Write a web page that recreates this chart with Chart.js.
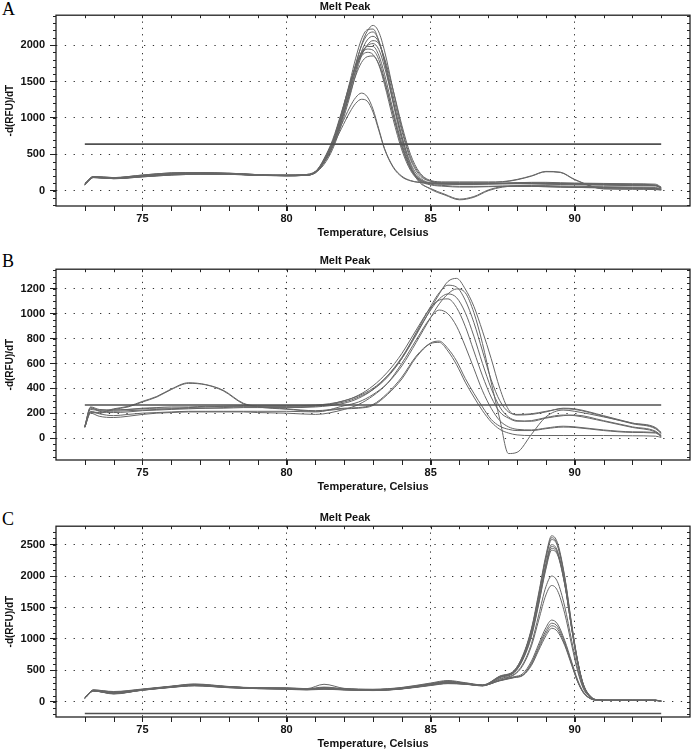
<!DOCTYPE html>
<html>
<head>
<meta charset="utf-8">
<script src="https://cdn.jsdelivr.net/npm/chart.js@4.4.1/dist/chart.umd.min.js"></script>
<style>
  body { margin: 0; width: 691px; height: 750px; overflow: hidden; background: #fff; }
  .panel { position: absolute; left: 0; width: 691px; height: 242px; }
  .tag { position: absolute; left: 2px; font-family: "Liberation Serif", serif; font-size: 18px; line-height: 1; color: #000; }
</style>
</head>
<body>
<div class="tag" style="top:0px">A</div>
<div class="tag" style="top:252px">B</div>
<div class="tag" style="top:510px">C</div>
<div class="panel" style="top:0px"><canvas id="chartA" width="691" height="242"></canvas></div>
<div class="panel" style="top:254px"><canvas id="chartB" width="691" height="242"></canvas></div>
<div class="panel" style="top:511px"><canvas id="chartC" width="691" height="242"></canvas></div>
<script>
// ---- panel A data ----
const tempA = [73, 73.3, 74, 75, 76, 77, 78, 79, 80, 80.6, 81, 81.3, 81.6, 81.9, 82.2, 82.4, 82.6, 82.8, 83.0, 83.2,
  83.4, 83.7, 84, 84.3, 84.6, 85, 85.5, 86, 86.5, 87, 87.5, 88, 88.5, 89, 89.5, 90, 91, 92, 92.8, 93];
const a1 = [90, 190, 175, 205, 230, 235, 230, 215, 210, 215, 255, 390, 610, 960, 1400, 1720, 2000, 2190, 2270, 2180,
  1920, 1380, 860, 460, 240, 130, 100, 95, 95, 100, 105, 110, 110, 105, 100, 100, 95, 90, 75, 40];
const a2 = [80, 180, 170, 195, 220, 240, 240, 220, 205, 210, 245, 420, 670, 1050, 1500, 1820, 2080, 2210, 2220, 2060,
  1760, 1200, 700, 330, 120, 30, -50, -115, -80, 10, 55, 60, 60, 55, 50, 45, 40, 35, 30, 20];
const a3 = [100, 195, 180, 215, 245, 250, 235, 210, 215, 220, 265, 400, 640, 1000, 1440, 1740, 1990, 2140, 2180, 2060,
  1780, 1240, 740, 360, 140, 20, -60, -125, -90, 0, 50, 65, 65, 60, 55, 50, 45, 40, 35, 15];
const a4 = [85, 185, 165, 190, 215, 225, 225, 210, 205, 210, 250, 380, 600, 940, 1360, 1660, 1910, 2070, 2120, 2040,
  1800, 1300, 820, 430, 220, 130, 115, 115, 115, 115, 120, 150, 200, 260, 250, 150, 25, 20, 15, 10];
const a5 = [95, 188, 172, 200, 225, 232, 232, 218, 212, 212, 250, 360, 570, 900, 1300, 1600, 1850, 2000, 2060, 2020,
  1820, 1380, 900, 500, 260, 140, 120, 120, 120, 120, 125, 155, 205, 265, 255, 155, 28, 25, 20, 10];
const a6 = [80, 180, 170, 195, 220, 240, 240, 220, 205, 210, 245, 390, 620, 960, 1380, 1650, 1880, 1990, 2020, 1940,
  1700, 1220, 750, 380, 190, 110, 100, 95, 95, 100, 100, 100, 100, 95, 95, 90, 85, 80, 75, 40];
const a7 = [100, 195, 180, 215, 245, 250, 235, 210, 215, 220, 265, 420, 660, 1020, 1450, 1720, 1900, 1980, 1980, 1860,
  1600, 1100, 650, 320, 170, 100, 90, 85, 85, 90, 95, 100, 95, 90, 85, 80, 75, 70, 65, 30];
const a8 = [85, 185, 165, 190, 215, 225, 225, 210, 205, 210, 250, 430, 680, 1050, 1470, 1720, 1880, 1945, 1930, 1800,
  1530, 1040, 600, 300, 150, 90, 70, 60, 60, 60, 65, 70, 70, 70, 65, 60, 55, 50, 45, 20];
const a9 = [90, 192, 178, 210, 238, 242, 236, 214, 210, 214, 258, 440, 700, 1070, 1470, 1700, 1850, 1900, 1870, 1730,
  1460, 980, 560, 280, 140, 80, 60, 50, 50, 55, 60, 60, 60, 55, 50, 45, 40, 35, 30, 15];
const a10 = [88, 182, 168, 198, 228, 238, 236, 216, 208, 212, 248, 400, 630, 960, 1330, 1580, 1760, 1840, 1850, 1740,
  1500, 1050, 620, 310, 160, 100, 90, 90, 90, 95, 100, 110, 115, 115, 110, 105, 100, 95, 90, 50];
const a11 = [92, 186, 172, 202, 232, 240, 238, 220, 212, 216, 260, 420, 650, 900, 1150, 1280, 1340, 1290, 1120, 850,
  580, 330, 200, 140, 115, 105, 100, 100, 100, 100, 100, 100, 100, 100, 100, 95, 90, 80, 70, 35];
const a12 = [86, 184, 170, 196, 224, 236, 234, 214, 206, 212, 252, 400, 610, 850, 1080, 1200, 1255, 1230, 1080, 830,
  570, 320, 190, 135, 115, 105, 100, 100, 100, 95, 95, 95, 95, 95, 90, 90, 85, 80, 75, 40];
const seriesA = [a1, a2, a3, a4, a5, a6, a7, a8, a9, a10, a11, a12];
const thresholdA = 640;
const yTicksA = [0, 500, 1000, 1500, 2000];

// ---- panel B data ----
const tempB = [73, 73.2, 73.5, 74, 74.5, 75, 75.5, 76, 76.6, 77.2, 77.8, 78.5, 79, 80, 81, 82, 82.5, 83, 83.5, 84,
  84.5, 85, 85.3, 85.6, 85.9, 86.2, 86.5, 86.8, 87.1, 87.4, 87.7, 88, 88.5, 89, 89.6, 90, 91, 92, 92.8, 93];
const b1 = [90, 245, 215, 205, 210, 220, 225, 230, 235, 240, 245, 250, 250, 250, 255, 300, 340, 400, 500, 640,
  830, 1040, 1160, 1260, 1285, 1200, 1060, 860, 640, 400, 230, 185, 190, 210, 240, 235, 180, 120, 80, 40];
const b2 = [95, 240, 225, 225, 230, 235, 240, 240, 245, 250, 255, 255, 255, 255, 260, 290, 330, 390, 490, 640,
  850, 1060, 1170, 1230, 1215, 1110, 930, 700, 470, 300, 210, 190, 195, 215, 235, 230, 175, 115, 75, 35];
const b3 = [85, 215, 195, 180, 190, 200, 205, 210, 215, 215, 215, 215, 215, 215, 210, 260, 290, 350, 440, 580,
  770, 970, 1080, 1160, 1200, 1170, 1010, 760, 450, 150, -125, -115, 30, 170, 225, 215, 170, 120, 85, 45];
const b4 = [90, 230, 220, 215, 220, 225, 230, 235, 240, 240, 240, 245, 245, 245, 250, 280, 320, 390, 500, 650,
  840, 1030, 1120, 1160, 1130, 1010, 820, 600, 400, 250, 170, 140, 135, 160, 180, 185, 140, 90, 55, 20];
const b5 = [95, 250, 230, 225, 230, 240, 245, 250, 250, 255, 255, 260, 260, 260, 265, 300, 345, 420, 530, 680,
  870, 1050, 1110, 1120, 1050, 900, 700, 500, 330, 210, 160, 135, 140, 165, 185, 180, 135, 85, 50, 20];
const b6 = [85, 200, 175, 165, 175, 190, 200, 205, 210, 210, 210, 210, 205, 200, 190, 230, 270, 340, 440, 600,
  790, 970, 1030, 1000, 900, 740, 560, 380, 240, 140, 90, 70, 65, 80, 95, 90, 65, 50, 45, 15];
const b7 = [90, 210, 205, 235, 255, 295, 335, 395, 445, 430, 385, 280, 255, 235, 220, 240, 245, 270, 360, 490,
  660, 765, 780, 720, 620, 480, 360, 250, 150, 95, 70, 60, 60, 75, 88, 85, 60, 45, 40, 10];
const b8 = [88, 205, 200, 230, 250, 290, 330, 390, 440, 428, 380, 275, 250, 232, 215, 235, 240, 262, 350, 475,
  650, 760, 770, 700, 590, 450, 330, 220, 130, 70, 40, 25, 20, 20, 20, 20, 20, 18, 15, 5];
const seriesB = [b1, b2, b3, b4, b5, b6, b7, b8];
const thresholdB = 266;
const yTicksB = [0, 200, 400, 600, 800, 1000, 1200];

// ---- panel C data ----
const tempC = [73, 73.3, 74, 75, 76, 76.8, 78, 79, 80, 80.7, 81.3, 82, 83, 84, 85, 85.6, 86.2, 86.8,
  87.4, 87.9, 88.2, 88.5, 88.75, 89, 89.2, 89.4, 89.65, 89.9, 90.1, 90.3, 90.55, 90.8, 91.2, 92, 92.8, 93];
const c1 = [60, 185, 150, 195, 245, 275, 240, 220, 215, 205, 225, 205, 195, 220, 285, 320, 295, 265,
  410, 500, 740, 1170, 1730, 2330, 2640, 2530, 2000, 1220, 660, 280, 85, 32, 28, 28, 27, 15];
const c2 = [70, 175, 125, 190, 235, 265, 230, 215, 210, 200, 215, 195, 185, 210, 270, 300, 285, 260,
  400, 490, 720, 1150, 1700, 2300, 2610, 2500, 1980, 1200, 650, 270, 82, 30, 27, 27, 26, 15];
const c3 = [65, 190, 165, 205, 250, 285, 245, 225, 225, 210, 280, 215, 200, 230, 300, 340, 305, 270,
  405, 495, 730, 1140, 1680, 2270, 2580, 2480, 1960, 1190, 640, 265, 80, 30, 27, 27, 26, 14];
const c4 = [55, 170, 135, 185, 230, 255, 225, 210, 200, 190, 200, 190, 180, 205, 260, 290, 280, 255,
  395, 480, 700, 1100, 1620, 2200, 2500, 2400, 1900, 1150, 620, 260, 78, 28, 25, 25, 25, 14];
const c5 = [62, 182, 145, 198, 242, 270, 238, 218, 212, 202, 220, 200, 192, 215, 280, 315, 290, 262,
  390, 475, 690, 1080, 1600, 2170, 2470, 2380, 1890, 1150, 625, 262, 80, 28, 25, 25, 25, 13];
const c6 = [68, 178, 130, 192, 238, 268, 232, 214, 208, 198, 212, 198, 188, 212, 275, 305, 288, 258,
  400, 470, 680, 1060, 1570, 2140, 2440, 2360, 1880, 1160, 640, 270, 85, 30, 26, 26, 25, 14];
const c7 = [58, 188, 160, 200, 248, 280, 242, 222, 220, 208, 235, 210, 198, 225, 292, 330, 300, 268,
  385, 465, 670, 1040, 1550, 2110, 2410, 2340, 1870, 1160, 650, 280, 90, 32, 26, 26, 25, 14];
const c8 = [60, 172, 140, 188, 232, 258, 228, 212, 204, 194, 205, 192, 182, 208, 265, 295, 282, 256,
  370, 440, 600, 930, 1380, 1830, 2000, 1910, 1520, 960, 530, 225, 72, 28, 25, 25, 24, 13];
const c9 = [64, 180, 148, 194, 240, 268, 236, 216, 210, 200, 218, 200, 190, 214, 278, 310, 290, 262,
  360, 430, 580, 890, 1300, 1700, 1850, 1770, 1410, 890, 490, 210, 68, 27, 24, 24, 24, 13];
const c10 = [66, 186, 155, 198, 244, 272, 240, 220, 216, 204, 224, 204, 194, 218, 284, 318, 294, 264,
  345, 400, 450, 650, 920, 1180, 1300, 1240, 980, 630, 350, 160, 55, 26, 24, 24, 24, 13];
const c11 = [56, 174, 132, 186, 234, 260, 228, 212, 206, 196, 208, 194, 184, 208, 268, 298, 284, 258,
  340, 395, 430, 620, 880, 1130, 1250, 1200, 950, 600, 330, 150, 52, 25, 23, 23, 23, 12];
const c12 = [62, 184, 152, 196, 242, 274, 238, 220, 214, 204, 222, 204, 194, 216, 282, 316, 292, 264,
  340, 390, 425, 600, 850, 1090, 1210, 1160, 920, 590, 330, 150, 52, 25, 23, 23, 23, 12];
const c13 = [68, 176, 138, 190, 236, 262, 232, 214, 208, 198, 210, 196, 186, 210, 272, 302, 286, 260,
  335, 385, 420, 580, 820, 1050, 1170, 1120, 900, 575, 320, 145, 50, 25, 23, 23, 23, 12];
const seriesC = [c1, c2, c3, c4, c5, c6, c7, c8, c9, c10, c11, c12, c13];
const thresholdC = -185;
const yTicksC = [0, 500, 1000, 1500, 2000, 2500];

const xTicks = [75, 80, 85, 90];
const thresholdSpan = [73, 93];

const FONT = '"Liberation Sans", Arial, sans-serif';
Chart.defaults.font.family = FONT;

// small tick marks and the box around the plot
const frame = {
  id: 'frame',
  afterDraw(chart, args, opts) {
    const { ctx, chartArea: a, scales: { x, y } } = chart;
    ctx.save();
    ctx.strokeStyle = '#222';
    ctx.lineWidth = 1;
    ctx.beginPath();
    for (let t = 73; t <= 93; t++) {
      const px = Math.round(x.getPixelForValue(t)) + 0.5;
      ctx.moveTo(px, a.bottom); ctx.lineTo(px, a.bottom + 5);
      ctx.moveTo(px, a.top); ctx.lineTo(px, a.top + 3);
    }
    for (let v = opts.from; v <= opts.to; v += opts.step) {
      const py = Math.round(y.getPixelForValue(v)) + 0.5;
      ctx.moveTo(a.left - 3, py); ctx.lineTo(a.left, py);
      ctx.moveTo(a.right - 3, py); ctx.lineTo(a.right, py);
    }
    ctx.stroke();
    ctx.lineWidth = 1.3;
    ctx.strokeRect(a.left, a.top, a.right - a.left, a.bottom - a.top);
    ctx.restore();
  }
};

function makeChart(id, temps, series, threshold, yMin, yMax, yTicks, minor) {
  const sets = [{
    data: [{ x: thresholdSpan[0], y: threshold }, { x: thresholdSpan[1], y: threshold }],
    borderColor: '#505050', borderWidth: 1.6, pointRadius: 0
  }];
  series.forEach(vals => {
    sets.push({
      data: vals.map((v, i) => ({ x: temps[i], y: v })),
      borderColor: '#666', borderWidth: 1, pointRadius: 0,
      cubicInterpolationMode: 'monotone'
    });
  });

  new Chart(document.getElementById(id), {
    type: 'line',
    data: { datasets: sets },
    plugins: [frame],
    options: {
      responsive: false,
      animation: false,
      events: [],
      layout: { padding: { left: 0, right: 1, top: 0, bottom: 0 } },
      plugins: {
        legend: { display: false },
        tooltip: { enabled: false },
        title: {
          display: true, text: 'Melt Peak', color: '#111',
          font: { size: 11, weight: 'bold' }, padding: { top: 0, bottom: 2 }
        },
        frame: minor
      },
      scales: {
        x: {
          type: 'linear', min: 72, max: 94,
          afterBuildTicks: s => { s.ticks = xTicks.map(v => ({ value: v })); },
          afterFit: s => { s.height = 36; },
          border: { display: false, dash: [1.3, 5] },
          grid: { color: '#333', tickBorderDash: [0, 0], tickColor: '#222', tickLength: 5 },
          ticks: { color: '#111', font: { size: 11, weight: 'bold' }, padding: 1, callback: v => String(v) },
          title: {
            display: true, text: 'Temperature, Celsius', color: '#111',
            font: { size: 11, weight: 'bold' }, padding: { top: 0, bottom: 2 }
          }
        },
        y: {
          min: yMin, max: yMax,
          afterBuildTicks: s => { s.ticks = yTicks.map(v => ({ value: v })); },
          afterFit: s => { s.width = 56; },
          border: { display: false, dash: [1.3, 7.5] },
          grid: { color: '#333', tickBorderDash: [0, 0], tickColor: '#222', tickLength: 6 },
          ticks: { color: '#111', font: { size: 11, weight: 'bold' }, padding: 5, callback: v => String(v) },
          title: {
            display: true, text: '-d(RFU)/dT', color: '#111',
            font: { size: 10, weight: 'bold' }, padding: { top: 4, bottom: 0 }
          }
        }
      }
    }
  });
}

makeChart('chartA', tempA, seriesA, thresholdA, -210, 2410, yTicksA, { from: -200, to: 2400, step: 100 });
makeChart('chartB', tempB, seriesB, thresholdB, -177, 1359, yTicksB, { from: -150, to: 1350, step: 50 });
makeChart('chartC', tempC, seriesC, thresholdC, -240, 2792, yTicksC, { from: -200, to: 2700, step: 100 });
</script>
</body>
</html>
